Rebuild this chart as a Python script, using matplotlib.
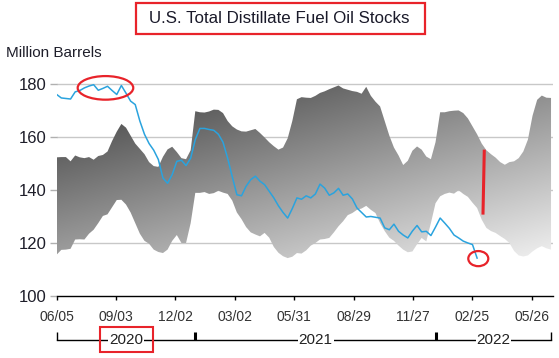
import numpy as np
import matplotlib
matplotlib.use("Agg")
import matplotlib.pyplot as plt
import matplotlib.dates as mdates
from matplotlib.patches import Ellipse, Rectangle

plt.rcParams['font.family'] = ['Liberation Sans', 'DejaVu Sans']

# ---------------- data ----------------
start_date = "2020-06-05"
title = "U.S. Total Distillate Fuel Oil Stocks"
y_label = "Million Barrels"
tick_labels = ["06/05", "09/03", "12/02", "03/02", "05/31", "08/29", "11/27", "02/25", "05/26"]
year_labels = ["2020", "2021", "2022"]
y_ticks = [100, 120, 140, 160, 180]

# weekly actual stocks (million barrels)
stocks = [176.0, 174.7, 174.5, 174.3, 177.0, 177.5, 178.5, 179.2, 179.7, 177.6,
          178.3, 179.1, 177.5, 176.0, 179.4, 176.5, 173.5, 172.2, 166.0, 161.0,
          157.5, 155.0, 151.5, 144.5, 142.5, 145.8, 150.8, 151.2, 149.2, 152.0,
          159.0, 163.2, 163.2, 162.8, 162.5, 161.0, 158.0, 152.0, 145.0, 138.2,
          137.8, 141.4, 143.9, 145.2, 143.3, 142.0, 139.5, 137.0, 134.0, 131.5,
          129.4, 133.0, 137.0, 136.5, 137.8, 137.0, 138.5, 142.2, 140.7, 138.0,
          138.9, 140.6, 138.0, 138.5, 136.6, 133.2, 131.5, 129.8, 130.0, 129.7,
          129.4, 125.7, 125.0, 127.1, 124.4, 123.0, 121.9, 124.5, 126.6, 124.2,
          124.4, 122.8, 126.0, 129.4, 127.5, 125.5, 123.0, 121.9, 120.7, 120.0,
          119.4, 114.3]

# five-year range band (weekly)
band_upper = [152.3, 152.4, 152.4, 150.8, 153.0, 152.3, 152.0, 152.4, 151.4, 152.8,
              153.2, 154.5, 158.5, 162.0, 164.9, 163.5, 160.5, 157.5, 155.5, 153.5,
              150.5, 149.0, 148.7, 152.5, 155.3, 156.3, 154.3, 152.0, 151.6, 155.0,
              169.7, 169.3, 169.2, 169.6, 170.3, 170.2, 169.0, 166.0, 164.0, 162.8,
              162.1, 162.0, 162.5, 163.0, 161.5, 159.8, 158.0, 156.5, 155.2, 156.0,
              159.5, 166.0, 174.2, 175.0, 174.8, 174.7, 175.5, 176.6, 177.2, 178.0,
              178.7, 179.4, 178.3, 177.8, 177.3, 177.0, 176.3, 178.9, 175.5, 173.3,
              171.5, 166.0, 160.5, 156.0, 153.0, 149.4, 151.0, 154.8, 156.4, 155.2,
              152.6, 151.6, 158.0, 169.3, 169.3, 169.7, 169.9, 170.0, 169.0, 167.0,
              164.0, 161.0, 157.5, 155.0, 153.5, 152.2, 150.5, 149.5, 150.5, 150.8,
              152.0, 154.5, 159.0, 168.0, 174.0, 175.6, 174.8, 174.7]
band_lower = [115.6, 117.4, 117.5, 117.8, 121.3, 121.4, 121.3, 123.5, 125.0, 127.5,
              130.2, 130.8, 133.5, 136.2, 136.3, 134.5, 131.5, 127.5, 123.5, 120.8,
              119.7, 117.5, 116.6, 116.2, 117.5, 120.8, 123.0, 120.0, 120.0, 127.5,
              138.9, 138.9, 139.2, 138.5, 138.8, 139.7, 139.0, 138.5, 136.0, 131.5,
              129.0, 126.0, 124.0, 123.2, 122.5, 123.8, 122.0, 118.5, 116.3, 115.0,
              114.3, 114.8, 116.2, 116.0, 117.2, 119.0, 120.0, 121.3, 121.5, 121.9,
              124.0, 126.3, 128.2, 130.5, 131.3, 132.5, 133.0, 134.0, 132.5, 131.3,
              127.5, 124.5, 122.0, 120.8, 119.0, 117.5, 116.5, 116.8, 119.5, 121.9,
              120.6, 127.5, 135.0, 137.6, 138.5, 139.0, 138.6, 139.9, 138.5, 137.4,
              135.2, 133.2, 128.8, 125.7, 124.5, 123.8, 122.6, 121.5, 120.0, 117.0,
              115.3, 114.9, 115.3, 116.8, 118.0, 118.8, 118.0, 117.5]

# ---------------- figure ----------------
W, H = 559, 358
DPI = 100
fig = plt.figure(figsize=(W / DPI, H / DPI), dpi=DPI)
fig.patch.set_facecolor("white")

def fx(px):
    return px / W

def fy(py):
    return 1 - py / H

ax_left, ax_right = 56.7, 553.0
ax_top, ax_bottom = 78.6, 296.0
ax = fig.add_axes([fx(ax_left), fy(ax_bottom), fx(ax_right - ax_left), (ax_bottom - ax_top) / H])

start = np.datetime64(start_date)
week = np.timedelta64(7, "D")
band_dates = start + np.arange(len(band_upper)) * week
line_dates = start + np.arange(len(stocks)) * week

x0 = mdates.date2num(start)
x1 = x0 + 752
ax.set_xlim(x0, x1)
ax.set_ylim(100, 182)

# gradient band
nx, ny = 400, 300
xs = np.linspace(0, 1, nx)
ys = np.linspace(100, 182, ny)
XX, YY = np.meshgrid(xs, ys)
yn = (YY - 115) / 65.0
bright = np.clip(158 + 82 * XX - 102 * yn, 0, 250) / 255.0
rgb = np.dstack([bright, bright, bright])
im = ax.imshow(rgb, extent=[x0, x1, 100, 182], origin="lower", aspect="auto",
               interpolation="bilinear", zorder=2)
poly = ax.fill_between(band_dates, band_lower, band_upper, facecolor="none",
                       edgecolor="none", zorder=2)
im.set_clip_path(poly.get_paths()[0], transform=ax.transData)
ax.set_xlim(x0, x1)
ax.set_ylim(100, 182)

# grid
for v in y_ticks[1:]:
    ax.axhline(v, color="#c8c8c8", lw=1.0, zorder=1)

# stocks line
ax.plot(line_dates, stocks, color="#2aa3de", lw=1.1, zorder=4)

# axes styling
for s in ["top", "right", "left"]:
    ax.spines[s].set_visible(False)
ax.spines["bottom"].set_color("black")
ax.spines["bottom"].set_linewidth(1.0)
ax.spines["bottom"].set_zorder(5)

ax.set_yticks(y_ticks)
ax.set_yticklabels([str(v) for v in y_ticks])
ax.tick_params(axis="y", length=5, width=1, color="#b0b0b0", pad=2,
               labelsize=12, labelcolor="#1e1e2a")

tick_dates = start + np.arange(len(tick_labels)) * np.timedelta64(90, "D")
ax.set_xticks(tick_dates)
ax.set_xticklabels(tick_labels)
ax.tick_params(axis="x", length=3, width=1, color="black", pad=7,
               labelsize=10, labelcolor="#333333")

# year bracket
trans = ax.get_xaxis_transform()
yb = (ax_bottom - 340) / (ax_bottom - ax_top)
yb_top = (ax_bottom - 331.7) / (ax_bottom - ax_top)
year_bounds = [x0, mdates.date2num(np.datetime64("2021-01-01")),
               mdates.date2num(np.datetime64("2022-01-01")), mdates.date2num(band_dates[-1])]
ax.plot([year_bounds[0], year_bounds[-1]], [yb, yb], color="black", lw=1.0,
        transform=trans, clip_on=False)
for i, xb in enumerate(year_bounds):
    lw = 1.0 if i in (0, len(year_bounds) - 1) else 2.2
    ax.plot([xb, xb], [yb, yb_top], color="black", lw=lw, transform=trans, clip_on=False,
            solid_capstyle="butt")
for i, lab in enumerate(year_labels):
    xm = (year_bounds[i] + year_bounds[i + 1]) / 2
    ax.text(xm, yb, lab, transform=trans, ha="center", va="center", fontsize=11,
            color="#222222", bbox=dict(facecolor="white", edgecolor="none", pad=0.5),
            clip_on=False, zorder=6)

# title with red box
fig.text(fx(279.5), fy(18.5), title, ha="center", va="center", fontsize=12.2,
         color="#1a1a2a")
fig.patches.append(Rectangle((fx(135.5), fy(34.3)), fx(425 - 135.5), (34.3 - 2.7) / H,
                             transform=fig.transFigure, fill=False, edgecolor="#e8232a",
                             lw=1.6))
fig.text(fx(5.5), fy(57), y_label, ha="left", va="baseline", fontsize=11, color="#1e1e2a")

# red box around 2020
fig.patches.append(Rectangle((fx(99.5), fy(352)), fx(152.5 - 99.5), (352 - 327) / H,
                             transform=fig.transFigure, fill=False, edgecolor="#e8232a",
                             lw=1.5))

# red annotations in data space
ax.add_patch(Ellipse((x0 + 73.9, 178.5), 84.2, 8.9, fill=False, edgecolor="#e8232a",
                     lw=1.6, clip_on=False, zorder=7))
ax.add_patch(Ellipse((x0 + 638.8, 114.1), 30.3, 5.7, fill=False, edgecolor="#e8232a",
                     lw=1.6, clip_on=False, zorder=7))
ax.plot([x0 + 647.9, x0 + 645.9], [155.2, 130.7], color="#e8232a", lw=2.2, zorder=7,
        solid_capstyle="butt")

fig.savefig("out.png", dpi=DPI)
